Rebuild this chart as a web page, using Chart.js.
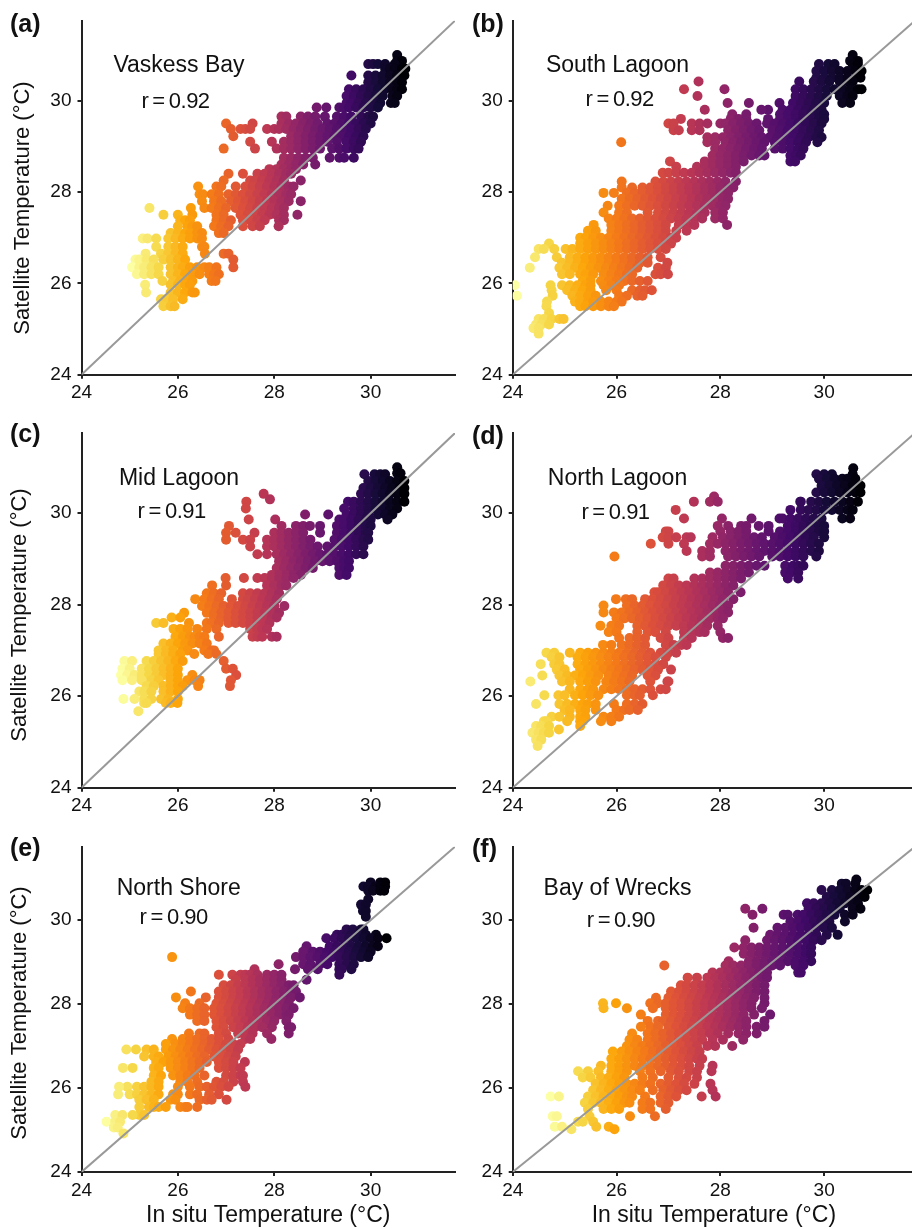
<!DOCTYPE html>
<html>
<head>
<meta charset="utf-8">
<title>In situ vs satellite temperature</title>
<script src="https://cdn.jsdelivr.net/npm/chart.js@4"></script>
<style>
html, body { margin: 0; padding: 0; width: 912px; height: 1229px; overflow: hidden; background: #fff; }
canvas { position: absolute; }
</style>
</head>
<body>
<canvas id="a" width="460" height="410" style="left:0;top:0"></canvas>
<canvas id="b" width="460" height="410" style="left:460px;top:0"></canvas>
<canvas id="c" width="460" height="410" style="left:0;top:410px"></canvas>
<canvas id="d" width="460" height="410" style="left:460px;top:410px"></canvas>
<canvas id="e" width="460" height="409" style="left:0;top:820px"></canvas>
<canvas id="f" width="460" height="409" style="left:460px;top:820px"></canvas>
<script>
const axisRange = [24, 31.75];
const tickValues = [24, 26, 28, 30];

// each row is: satellite temp, then the in situ temps read at that level
const vaskessBay = [
  [31.0,30.55],[30.87,30.55,30.65],[30.8,29.95,30.05,30.15,30.3,30.5],[30.7,30.3,30.4,30.5,30.65,30.72],
  [30.55,29.6,29.95,30.1,30.25,30.4,30.55,30.7],[30.4,29.95,30.1,30.25,30.4,30.55,30.65],
  [30.25,29.55,29.7,29.85,30,30.15,30.3,30.45,30.55,30.65],[30.1,29.5,29.65,29.8,29.95,30.1,30.25,30.45,30.55],
  [29.95,29.5,29.6,29.75,29.9,30.05,30.2,30.42,30.5],[29.85,28.88,29.08,29.35,29.45,29.55,29.7,29.85,30,30.15],
  [29.65,28.15,28.25,28.55,28.7,28.85,29.05,29.3,29.45,29.6,29.8,29.95,30.05],
  [29.5,27,27.55,28.15,28.3,28.45,28.6,28.75,28.9,29.1,29.25,29.4,29.55,29.7,29.85,30],
  [29.38,27.1,27.3,27.4,27.5,27.85,28,28.1,28.25,28.4,28.55,28.7,28.85,29,29.15,29.3,29.45,29.6,29.75,29.9],
  [29.22,27.15,28.35,28.5,28.65,28.8,28.95,29.1,29.25,29.4,29.55,29.7,29.85],
  [29.1,27.5,27.95,28.2,28.35,28.5,28.65,28.8,28.95,29.1,29.3,29.5,29.65,29.8],
  [28.95,26.95,27.6,28.05,28.2,28.35,28.5,28.65,28.8,28.95,29.2,29.35,29.5,29.65,29.75],
  [28.75,28.2,28.35,28.5,28.65,28.8,29.15,29.35,29.45,29.65],[28.6,28.15,28.3,28.45,28.6,28.85],
  [28.5,27.9,28.05,28.2,28.35,28.45],[28.4,27.05,27.35,27.65,27.8,27.95,28.1,28.25,28.35],
  [28.25,26.95,27.5,27.6,27.75,27.9,28.05,28.2,28.55],[28.12,26.42,26.8,26.9,27.2,27.4,27.55,27.7,27.85,28,28.15,28.3,28.4],
  [27.95,26.45,26.52,26.7,26.85,27.05,27.2,27.35,27.5,27.65,27.8,27.95,28.1,28.25,28.35],
  [27.8,26.5,26.75,26.9,27.1,27.25,27.4,27.55,27.7,27.85,28,28.15,28.3,28.55],
  [27.65,25.41,26.27,26.55,26.7,26.85,27,27.2,27.35,27.5,27.65,27.8,27.95,28.1,28.2],
  [27.5,25.7,26,26.3,26.8,26.95,27.3,27.45,27.6,27.75,27.9,28.05,28.2,28.48],
  [27.38,26.05,26.15,26.25,26.8,26.95,27.1,27.35,27.5,27.65,27.8,28.1,28.2],
  [27.25,26,26.2,26.3,26.4,26.75,26.9,27.05,27.35,27.55,27.7,28.09],[27.1,25.85,26,26.15,26.25,26.4,26.5,26.85,26.95],
  [26.98,25.27,25.37,25.55,25.8,25.95,26.1,26.25,26.4,26.5],[26.8,25.55,25.8,25.95,26.1,26.5,26.55],
  [26.65,25.33,25.65,25.8,25.95,26.1,26.56,26.95,27.05],[26.52,25.12,25.2,25.35,25.5,25.7,25.85,26,26.15,27.15],
  [26.35,25.05,25.2,25.3,25.45,25.6,25.85,26,26.1,26.25,26.4,26.55,26.65,26.8,27.15],
  [26.2,25.15,25.3,25.45,25.6,25.85,26,26.15,26.3,26.45,26.65,26.75,26.85],[26.05,25.68,25.9,26.05,26.2,26.3,26.7,26.78],
  [25.97,25.32,25.85,26,26.15,26.25],[25.8,25.34,25.85,26,26.15,26.3,26.35],[25.65,25.65,25.75,25.9,26.1],[25.5,25.7,25.85,25.93]
];

const southLagoon = [
  [31.0,30.55],[30.87,30.5,30.65],[30.8,29.9,30.08,30.2,30.55,30.65],[30.65,29.85,30,30.15,30.3,30.45,30.6,30.72],
  [30.5,29.85,30,30.15,30.3,30.45,30.6,30.7],[30.42,27.58,29.52,29.8,29.95,30.1,30.3,30.45,30.55],
  [30.25,27.3,28.08,29.45,29.6,29.75,29.9,30.05,30.2,30.35,30.5,30.65,30.72],[30.1,27.56,29.45,29.6,29.75,29.9,30.05,30.3,30.45,30.55],
  [29.95,28.14,28.55,29.14,29.4,29.55,29.7,29.85,30,30.35,30.5],[29.8,27.7,28.92,28.79,29.2,29.35,29.5,29.65,29.8,29.95],
  [29.7,28.23,28.5,29.15,29.3,29.45,29.6,29.75,29.9,30],[29.6,27.24,28.2,28.35,28.5,28.92,29.15,29.3,29.45,29.6,29.75,29.9,30],
  [29.5,27,27.1,27.45,27.6,27.75,28,28.1,28.25,28.4,28.55,28.7,28.9,29.05,29.2,29.35,29.5,29.65,29.8,29.95],
  [29.35,27.1,27.2,27.45,27.6,28.15,28.3,28.45,28.6,28.75,29,29.15,29.3,29.45,29.6,29.75,29.9],
  [29.2,27.75,27.9,28.05,28.2,28.35,28.5,28.65,28.8,28.95,29.1,29.25,29.4,29.55,29.7,29.85,29.95],
  [29.09,26.09,27.75,27.9,28.1,28.25,28.4,28.55,28.7,28.85,29.05,29.2,29.35,29.5,29.65,29.87],
  [28.95,27.9,28.05,28.2,28.35,28.5,28.65,28.8,29.05,29.2,29.35,29.5,29.6],[28.8,27.85,28,28.15,28.3,28.45,28.6,28.75,28.85,29.35,29.45,29.55],
  [28.67,27.03,27.7,27.85,28,28.15,28.3,28.45,29.35,29.44],[28.55,27.15,27.55,27.7,27.85,28,28.15,28.3],
  [28.42,26.89,27,27.15,27.3,27.45,27.6,27.75,27.9,28.05,28.2,28.3],
  [28.23,26.1,26.75,26.9,27.05,27.2,27.35,27.5,27.65,27.8,27.95,28.1,28.3],
  [28.1,26.1,26.3,26.5,26.65,26.8,26.95,27.1,27.25,27.4,27.55,27.7,27.85,28,28.15,28.25],
  [27.98,25.75,25.95,26.2,26.35,26.5,26.65,26.8,26.95,27.1,27.25,27.4,27.55,27.7,27.85,28,28.15],
  [27.85,26.1,26.25,26.4,26.55,26.7,26.85,27,27.15,27.3,27.45,27.6,27.75,27.9,28.05,28.15],
  [27.7,25.83,26.05,26.2,26.35,26.5,26.65,26.8,26.95,27.1,27.25,27.4,27.55,27.7,27.85,28,28.1],
  [27.55,25.75,26.05,26.2,26.6,26.8,26.95,27.1,27.25,27.4,27.55,27.7,27.9,28.05],
  [27.42,25.85,26,26.15,26.3,26.45,26.6,26.75,26.9,27.05,27.2,27.35,27.5,27.65,27.9,28.05],
  [27.28,25.56,25.9,26.05,26.2,26.35,26.5,26.65,26.8,26.95,27.2,27.35,27.5,28.13],
  [27.15,25.45,25.6,25.9,26.05,26.2,26.35,26.5,26.65,26.8,26.95,27.15,27.35],
  [27,25.3,25.4,25.55,25.7,25.85,26,26.15,26.3,26.45,26.6,26.75,26.9,27.05,27.15],
  [26.87,24.7,25.3,25.45,25.6,25.75,25.9,26.05,26.2,26.35,26.5,26.65,26.8,26.95,27.05],
  [26.75,24.5,24.6,24.8,25.02,25.15,25.3,25.45,25.6,25.75,25.9,26.05,26.2,26.35,26.5,26.65,26.8,26.95],
  [26.57,24.43,24.85,25.1,25.25,25.4,25.55,25.7,25.85,26,26.15,26.3,26.45,26.6,26.85],
  [26.45,24.95,25.1,25.25,25.4,25.55,25.7,25.85,26,26.15,26.3,26.45,26.6,26.98],
  [26.34,24.33,24.9,25.05,25.2,25.35,25.5,25.65,25.8,25.95,26.1,26.25,26.4,26.8,26.95],
  [26.2,24.95,25.1,25.3,25.4,25.55,25.75,25.9,26.05,26.2,26.3,26.75,26.85,26.99],
  [26.05,25.35,25.5,25.7,25.85,26,26.15,26.3,26.45,26.6],[25.96,24.04,24.73,24.95,25.1,25.25,25.4,25.5,25.75,25.9,26.05],
  [25.85,24.75,25.05,25.2,25.35,25.5,25.8,26,26.3,26.45,26.55,26.68],[25.73,24.08,24.77,25.15,25.3,25.45,25.6,26.05,26.2,26.4,26.5],
  [25.6,24.66,25.2,25.3,25.45,25.55,25.7,25.85,26,26.1],[25.5,24.65,25.3,25.4,25.55,25.7,25.85,25.95],[25.35,24.7],
  [25.22,24.5,24.6,24.75,24.9,24.98],[25.1,24.45,24.55,24.7],[25.02,24.4,24.5],[24.9,24.5]
];

const midLagoon = [
  [31.0,30.55],[30.87,30.55,30.62],[30.85,29.87,30.08,30.2,30.3],[30.7,29.95,30.1,30.25,30.4,30.55,30.7],
  [30.55,29.85,30,30.15,30.3,30.45,30.6,30.7],[30.42,27.78,29.8,29.95,30.1,30.25,30.4,30.55,30.7],[30.3,27.91],
  [30.25,27.42,29.53,29.65,29.8,29.95,30.1,30.25,30.4,30.55,30.7],[30.1,27.41,29.45,29.65,29.8,29.95,30.1,30.25,30.4,30.55],
  [29.97,29.12,28.64,29.5,29.65,29.8,29.95,30.15,30.3,30.45],[29.86,27.47,28.02,29.35,29.45,29.6,29.75,29.9,30,30.35],
  [29.72,27.06,28.15,28.45,28.6,28.74,28.95,29.3,29.45,29.6,29.75,29.9,30],
  [29.57,27,27.2,27.59,28,28.15,28.3,28.45,28.6,28.95,29.3,29.45,29.6,29.75,29.9,29.95],
  [29.42,27,27.35,27.5,27.85,28,28.15,28.3,28.45,28.6,28.75,29.25,29.4,29.55,29.7,29.85,29.95],
  [29.27,27.5,27.85,28,28.15,28.3,28.45,28.6,28.75,28.9,29.1,29.25,29.4,29.55,29.7,29.85],
  [29.1,27.65,27.85,28.05,28.2,28.35,28.5,28.65,28.8,28.95,29.1,29.25,29.4,29.55,29.7,29.85],
  [28.95,28.1,28.25,28.4,28.55,28.7,28.85,29,29.15,29.3,29.45,29.55],[28.8,28.05,28.2,28.35,28.5,28.65,28.8,29.35,29.45,29.55],
  [28.65,27.95,28.1,28.25,28.4,28.55,29.35,29.5],[28.58,26.99,27.37,27.65,27.8,27.95,28.1,28.25,28.4],
  [28.42,26.71,27,27.85,28,28.15,28.25],[28.25,26.6,26.75,26.9,27.35,27.5,27.65,27.8,27.95,28.1],
  [28.12,26.36,26.55,26.7,26.85,27.12,27.35,27.45,27.6,27.75,27.9,28.05],
  [27.97,26.5,26.65,26.8,26.95,27.1,27.25,27.4,27.55,27.7,27.85,28,28.21],
  [27.82,26.13,26.6,26.75,26.9,27.05,27.2,27.35,27.5,27.65,27.8,27.95,28.1],
  [27.72,25.87,26.05,26.75,26.9,27.05,27.2,27.35,27.5,27.65,27.8,27.95,28.05],
  [27.6,25.55,25.7,26.23,26.6,26.7,26.85,27.05,27.2,27.35,27.5,27.65,27.75,27.9],
  [27.47,25.91,26.05,26.2,26.4,26.6,26.8,27.5,27.65,27.75,27.85],
  [27.3,25.95,26.1,26.25,26.35,26.45,26.55,26.85,27.55,27.65,27.75,27.95,28.05],
  [27.15,25.7,25.85,26,26.15,26.3,26.45,26.6],[27,25.6,25.75,25.9,26.1,26.2,26.55,26.7,26.75],
  [26.92,25.6,25.75,25.9,26.05,26.34,26.63,26.8],[26.77,24.89,25.05,25.35,25.5,25.65,25.8,25.95,26.1,26.95],
  [26.6,24.85,25,25.25,25.4,25.55,25.7,25.85,26,27,27.14],
  [26.46,24.82,24.95,25.1,25.25,25.4,25.55,25.7,25.85,26,26.3,27.21],
  [26.35,24.85,25.05,25.25,25.45,25.6,25.85,26,26.2,26.35,26.45,27.1],
  [26.22,25.35,25.5,25.7,25.85,26,26.1,26.42,27.08],[26.1,25.2,25.3,25.45,25.7,25.85,26],
  [25.94,24.87,25.1,25.3,25.45,25.65,25.8,26],[25.85,25.3,25.35,25.75,25.85,25.99],[25.67,25.18]
];

const northLagoon = [
  [30.98,30.56],[30.85,29.85,30,30.15,30.55],[30.75,29.9,30.05,30.2,30.35,30.45,30.6],[30.6,29.95,30.1,30.25,30.4,30.55,30.7],
  [30.45,29.85,30,30.15,30.3,30.45,30.6,30.7],[30.36,27.88],[30.25,27.49,27.8,27.95,29.54,29.55,29.75,29.9,30.05,30.2,30.35,30.5,30.65],
  [30.07,27.14,29.35,29.55,29.7,29.85,30,30.15,30.3,30.45,30.55],
  [29.88,27.3,28.03,28.6,29.14,29.2,29.35,29.5,29.65,29.8,29.95,30.35,30.5],
  [29.72,27.95,28.15,28.4,28.5,28.74,28.93,29.3,29.45,29.6,29.75,29.9,30],
  [29.6,26.95,27,28,28.2,28.35,28.5,28.93,29.15,29.3,29.45,29.6,29.75,29.9,30],
  [29.47,26.89,27,27.15,27.35,27.43,27.85,28.05,28.2,28.35,28.5,28.65,28.8,29.05,29.2,29.35,29.5,29.65,29.8,30],
  [29.33,26.66,27,27.3,27.8,27.95,28.1,28.25,28.4,28.55,28.7,28.85,29,29.15,29.3,29.45,29.6,29.75,29.9],
  [29.17,27.35,27.65,27.8,28.1,28.25,28.4,28.55,28.7,28.85,29,29.15,29.3,29.45,29.6,29.75,29.9],
  [29.05,25.96,27.65,27.8,28.15,28.3,28.45,28.6,28.75,29,29.15,29.3,29.45,29.6,29.85],
  [28.85,28.1,28.25,28.4,28.55,28.7,28.85,29.25,29.4,29.5,29.6],[28.7,27.8,27.95,28.1,28.25,28.4,28.55,29.25,29.35,29.5],
  [28.57,27,27.1,27.5,27.65,27.8,27.95,28.1,28.25,28.4,29.3,29.5],[28.42,26.9,27.05,27.2,27.35,27.5,27.65,27.8,27.95,28.1,28.25],
  [28.27,26.73,26.8,26.95,27.1,27.25,27.4,27.55,27.7,27.85,28,28.15,28.39],
  [28.12,25.99,26.18,26.3,26.55,26.7,26.85,27,27.15,27.3,27.45,27.6,27.75,27.9,28.05,28.25],
  [27.98,25.75,26.2,26.35,26.5,26.65,26.8,26.95,27.1,27.25,27.4,27.55,27.7,27.85,28,28.15],
  [27.83,25.75,25.95,26.1,26.25,26.4,26.55,26.7,26.85,27,27.15,27.3,27.45,27.6,27.75,27.9,28.05,28.15],
  [27.7,26,26.15,26.3,26.45,26.6,26.75,26.9,27.05,27.2,27.35,27.5,27.65,27.8,27.95,28.05],
  [27.54,25.69,25.9,26.05,26.4,26.55,26.7,26.85,27,27.15,27.3,27.45,27.6,27.75,27.95],
  [27.4,25.85,26,26.4,26.6,26.75,26.95,27.3,27.45,27.6,27.7,28],
  [27.27,26.05,26.25,26.4,26.55,26.85,27,27.3,27.45,28.05,28.15],[27.12,25.74,25.9,26.1,26.25,26.4,26.55,26.95,27.1,27.25,27.35],
  [26.95,24.65,24.8,25.1,25.3,25.45,25.6,25.75,25.9,26.05,26.2,26.35,26.5,26.65,26.85,27,27.15],
  [26.85,24.75,24.9,25.25,25.4,25.55,25.7,25.85,26,26.15,26.3,26.45,26.6,26.75,26.95],
  [26.7,24.54,24.8,24.9,25.25,25.4,25.55,25.7,25.85,26,26.15,26.3,26.45,26.6,26.75,26.9],
  [26.58,24.85,25,25.3,25.45,25.6,25.75,25.9,26.05,26.2,26.35,26.5,26.65,26.8,27.05],
  [26.45,24.57,24.9,25.05,25.2,25.35,25.5,25.65,25.85,26,26.15,26.3,26.6,26.75],
  [26.32,24.34,24.95,25.1,25.3,25.45,25.6,25.8,25.95,26.1,26.25,26.65,26.98,27],
  [26.15,25.1,25.3,25.45,25.55,25.75,25.9,26.05,26.2,26.35,26.5,26.65,26.85,26.95],
  [26.02,24.61,24.88,25,25.2,25.35,25.5,25.65,26.2,26.35,26.45,26.7],[25.83,24.45,24.9,25.05,25.2,25.35,25.45,25.6,25.95,26.2,26.35,26.5],
  [25.7,25,25.1,25.3,25.4,25.6,26,26.15,26.25,26.41],[25.55,24.75,24.9,25.1,25.3,25.4,25.75,25.9,26.05],
  [25.45,24.6,24.65,25.05,25.3,25.35,25.7,25.9],[25.35,24.45,24.55,24.7,25.3],[25.27,24.89],
  [25.2,24.38,24.5,24.6,24.7],[25.05,24.45,24.55],[24.91,24.48]
];

const northShore = [
  [30.9,30,30.2,30.3],[30.8,29.85,29.95,30.1,30.2,30.3],[30.7,29.95,30.05,30.2,30.28],[30.5,29.95],[30.37,29.8,29.9],[30.22,29.84,29.9],[30.08,29.9],
  [29.78,29.5,29.63,29.8,29.85],[29.65,29.3,29.4,29.5,29.6,29.75,29.9,30.11],[29.57,29.08,29.25,29.4,29.55,29.7,29.85,30,30.15,30.33],
  [29.38,28.67,29.15,29.3,29.45,29.6,29.75,29.9,30.05,30.15],[29.25,28.6,28.8,28.95,29.1,29.25,29.4,29.55,29.7,29.85,30],
  [29.12,25.88,28.45,28.6,28.75,28.9,29.05,29.2,29.35,29.5,29.65,29.8,29.95],[28.95,28.09,28.6,28.75,28.95,29.1,29.35,29.5,29.65],
  [28.83,27.59,28.43,28.7,28.9,29.35,29.4,29.6],[28.7,26.85,27.13,27.3,27.4,27.5,27.65,27.85,28,28.15,29.35],
  [28.58,27.2,27.4,27.55,27.7,27.85,28,28.15,28.67],[28.45,26.95,27.1,27.25,27.4,27.55,27.7,27.85,28,28.15,28.3,28.4],
  [28.3,26.27,26.85,27,27.15,27.3,27.45,27.6,27.75,27.9,28.05,28.2,28.35,28.45],
  [28.16,25.96,26.58,26.85,27,27.15,27.3,27.45,27.6,27.75,27.9,28.05,28.2,28.35,28.53],
  [28.02,26.15,26.45,26.8,26.95,27.1,27.25,27.4,27.55,27.7,27.85,28,28.15,28.3],
  [27.9,26.1,26.25,26.4,26.55,26.75,26.9,27.05,27.2,27.35,27.5,27.65,27.8,27.95,28.1,28.25,28.4],
  [27.75,26.25,26.4,26.55,26.75,26.9,27.05,27.2,27.35,27.5,27.65,27.8,27.95,28.1,28.25,28.3],
  [27.6,26.4,26.55,26.8,26.95,27.1,27.25,27.4,27.55,27.7,27.85,28,28.25],[27.45,26.8,26.95,27.15,27.3,27.45,27.6,27.75,27.95,28.3,28.35],
  [27.3,26.23,26.45,26.55,26.85,27,27.25,27.4,27.55,27.85,28.3],[27.17,25.88,26.1,26.25,26.4,26.55,26.7,26.85,27.05,27.4,27.5,27.94],
  [27.05,25.75,25.95,26.1,26.25,26.4,26.55,26.7,26.85,27,27.15,27.3],
  [26.92,25.13,24.93,25.35,25.5,25.75,25.9,26.05,26.2,26.35,26.5,26.65,26.8,26.95,27.1,27.25],
  [26.75,25.3,25.5,25.6,25.8,25.95,26.1,26.25,26.4,26.55,26.75,26.9,27.05,27.2],
  [26.62,25.55,25.7,25.85,26,26.15,26.3,26.45,26.6,26.85,27,27.15,27.39],
  [26.48,24.86,25.06,25.5,25.6,25.85,26,26.15,26.3,26.45,26.85,27,27.15,27.3],
  [26.3,25.5,25.65,25.9,26.05,26.2,26.35,26.55,27,27.15,27.3,27.35],[26.15,25.45,25.6,26.05,26.2,26.4,26.8,26.95,27.15,27.35],
  [26.03,24.95,24.78,25.15,25.3,25.45,25.6,26,26.25,26.45,26.6,26.75,26.9,27.05,27.4],
  [25.85,24.76,25,25.15,25.3,25.45,25.6,25.9,26,26.25,26.4,26.65,26.85],[25.72,25.2,25.35,25.5,25.85,25.95,26.45,26.6,26.7,27.01],
  [25.55,25.2,25.4,25.5,25.6,25.75,26.05,26.15,26.2,26.4],[25.36,24.7,24.85,25.2,25.3,25.06],[25.2,24.52,24.7,24.8],[25.06,24.67,24.75],[24.92,24.87]
];

const bayOfWrecks = [
  [30.97,30.62],[30.87,30.34,30.42,30.6],[30.72,29.95,30.15,30.3,30.45,30.6,30.72,30.83],[30.55,30.05,30.2,30.35,30.5,30.65,30.78],
  [30.4,29.67,29.8,29.95,30.1,30.25,30.4,30.55,30.65],[30.27,28.48,28.81,29.7,29.85,30,30.15,30.3,30.55,30.7],
  [30.13,28.62,29.22,29.3,29.49,29.6,29.75,29.9,30.05,30.2,30.4,30.55],[29.97,29.35,29.5,29.65,29.8,29.95,30.1,30.4],
  [29.82,28.64,29.1,29.25,29.4,29.55,29.7,29.85,30,30.15],[29.65,28.96,29.1,29.25,29.4,29.55,29.7,29.85,30.05,30.26],
  [29.52,28.48,28.9,29.05,29.2,29.35,29.5,29.65,29.8,29.95],[29.35,28.27,28.45,28.6,28.75,28.9,29.05,29.2,29.35,29.5,29.65,29.75],
  [29.2,28.45,28.6,28.75,28.9,29.05,29.2,29.35,29.5,29.65,29.75],[29.02,28.16,28.55,28.7,28.85,29,29.15,29.3,29.45,29.6,29.75],
  [28.92,26.92,28.1,28.25,28.4,28.55,28.7,28.85,29,29.15,29.45,29.6],[28.75,27.85,28,28.15,28.3,28.45,28.6,28.75,28.9,29.5,29.55],
  [28.63,27.37,27.55,27.75,27.9,28.05,28.2,28.35,28.5,28.65,28.8,28.9],[28.45,27.24,27.35,27.5,27.65,27.8,27.95,28.1,28.25,28.4,28.55,28.7,28.85],
  [28.3,27.05,27.2,27.35,27.5,27.65,27.8,27.95,28.1,28.25,28.4,28.55,28.7,28.85],
  [28.15,26.76,27,27.15,27.3,27.45,27.6,27.75,27.9,28.05,28.2,28.35,28.5,28.65,28.85],
  [28.02,25.74,25.99,26.65,26.8,26.95,27.1,27.25,27.4,27.55,27.7,27.85,28,28.15,28.3,28.45,28.6,28.85],
  [27.9,25.75,26.2,26.7,26.95,27.1,27.25,27.4,27.55,27.7,27.85,28,28.15,28.3,28.45,28.6,28.8],
  [27.75,26.47,26.95,27.1,27.25,27.4,27.55,27.7,27.85,28,28.15,28.3,28.45,28.65,28.96],
  [27.6,26.6,26.8,26.9,27.05,27.2,27.35,27.5,27.65,27.8,27.95,28.1,28.25,28.4,28.5,28.85],
  [27.46,26.47,26.65,26.8,27,27.15,27.3,27.45,27.6,27.75,27.9,28.05,28.2,28.35,28.5,28.7,28.85],
  [27.3,26.3,26.6,26.75,26.9,27.05,27.2,27.35,27.5,27.65,27.8,27.95,28.15,28.35,28.5,28.7],
  [27.15,26.25,26.4,26.6,26.75,26.9,27.05,27.2,27.35,27.5,27.65,27.85,28.05,28.44],
  [27,26.2,26.35,26.5,26.65,26.8,26.95,27.1,27.25,27.4,27.55,27.75,27.9,28.23],
  [26.87,25.93,26.1,26.25,26.4,26.55,26.7,26.85,27,27.15,27.3,27.45,27.6],
  [26.7,25.9,26.05,26.2,26.35,26.5,26.65,26.8,26.95,27.1,27.25,27.4,27.55,27.65],
  [26.53,25.7,25.9,26.05,26.2,26.35,26.5,26.65,26.8,26.95,27.1,27.25,27.4,27.6,27.85],
  [26.4,25.26,25.45,25.65,25.9,26.05,26.2,26.45,26.65,26.85,27.05,27.2,27.4,27.55,27.83],
  [26.25,25.35,25.5,25.7,25.85,26,26.15,26.5,26.7,27,27.2,27.35,27.55],
  [26.1,25.6,25.75,25.9,26.05,26.2,26.35,26.5,26.65,26.85,27,27.15,27.3,27.5,27.81],
  [25.95,25.55,25.7,25.85,26,26.15,26.3,26.45,26.7,26.9,27.05,27.2,27.35,27.85],
  [25.8,24.73,24.89,25.45,25.6,25.75,25.9,26.05,26.2,26.3,26.55,26.85,27,27.15,27.64,27.91],
  [25.65,25.39,25.55,25.7,25.85,26,26.15,26.25,26.5,26.65,26.85,27],[25.5,25.45,25.75,25.9,26.05,26.5,26.65,26.95],
  [25.33,24.77,24.85,25.48,26.26,26.74],[25.2,25.26,25.35,25.55],[25.08,24.81,24.95,25.61,25.85],[25.02,25.13,25.96]
];

// inferno colour stops, pale end first
const inferno = ['#fcffa4', '#f6d746', '#fca50a', '#f37819', '#dd513a', '#bc3754', '#932667', '#6a176e', '#420a68', '#160b39', '#000004'];

const panels = [
  { id: 'a', rows: vaskessBay, letter: '(a)', site: 'Vaskess Bay', r: 'r = 0.92', colorMin: 25.05, colorMax: 30.7,
    top: 20.7, bottom: 35.3, left: 81.5, letterPos: [10, 25], sitePos: [179, 66], rPos: [175.5, 102], yTitle: [23, 208] },
  { id: 'b', rows: southLagoon, letter: '(b)', site: 'South Lagoon', r: 'r = 0.92', colorMin: 24.04, colorMax: 30.72,
    top: 20.7, bottom: 35.3, left: 52.7, letterPos: [12, 25], sitePos: [157.5, 66], rPos: [159.7, 100] },
  { id: 'c', rows: midLagoon, letter: '(c)', site: 'Mid Lagoon', r: 'r = 0.91', colorMin: 24.82, colorMax: 30.7,
    top: 23, bottom: 32.3, left: 81.5, letterPos: [10, 25], sitePos: [179, 69], rPos: [171.7, 102], yTitle: [20, 205] },
  { id: 'd', rows: northLagoon, letter: '(d)', site: 'North Lagoon', r: 'r = 0.91', colorMin: 24, colorMax: 30.7,
    top: 23, bottom: 32.3, left: 52.7, letterPos: [12, 27], sitePos: [157.5, 69], rPos: [155.5, 103] },
  { id: 'e', rows: northShore, letter: '(e)', site: 'North Shore', r: 'r = 0.90', colorMin: 24.5, colorMax: 30.33,
    top: 26.7, bottom: 57, left: 81.5, letterPos: [10, 29], sitePos: [178.7, 68.3], rPos: [173.7, 98.3], yTitle: [20, 193], xTitle: true },
  { id: 'f', rows: bayOfWrecks, letter: '(f)', site: 'Bay of Wrecks', r: 'r = 0.90', colorMin: 24.73, colorMax: 30.83,
    top: 26.7, bottom: 57, left: 52.7, letterPos: [12, 30], sitePos: [157.5, 68.3], rPos: [160.8, 101], xTitle: true }
];

const yLabel = 'Satellite Temperature (°C)';
const xLabel = 'In situ Temperature (°C)';
const axisColor = '#222';

function mixHex(a, b, f) {
  const parse = h => [1, 3, 5].map(i => parseInt(h.slice(i, i + 2), 16));
  const ca = parse(a), cb = parse(b);
  return 'rgb(' + ca.map((v, i) => Math.round(v + (cb[i] - v) * f)).join(',') + ')';
}

function colorFor(x, panel) {
  const t = Math.min(1, Math.max(0, (x - panel.colorMin) / (panel.colorMax - panel.colorMin))) * 10;
  const i = Math.min(9, Math.floor(t));
  return mixHex(inferno[i], inferno[i + 1], t - i);
}

function rowsToPoints(rows) {
  const pts = [];
  rows.forEach(row => row.slice(1).forEach(x => pts.push({ x: x, y: row[0] })));
  return pts;
}

const panelText = {
  id: 'panelText',
  afterDraw(chart, args, opts) {
    const p = opts.panel, c = chart.ctx;
    c.save();
    c.fillStyle = '#111';
    c.textBaseline = 'middle';
    c.textAlign = 'left';
    c.font = 'bold 25px "Liberation Sans"';
    c.fillText(p.letter, p.letterPos[0], p.letterPos[1]);
    c.textAlign = 'center';
    c.font = '23px "Liberation Sans"';
    c.fillText(p.site, p.sitePos[0], p.sitePos[1]);
    c.font = '22px "Liberation Sans"';
    c.wordSpacing = '-1.5px';
    c.letterSpacing = '-0.5px';
    c.fillText(p.r, p.rPos[0], p.rPos[1]);
    c.wordSpacing = '0px';
    c.letterSpacing = '0px';
    if (p.yTitle) {
      c.translate(p.yTitle[0], p.yTitle[1]);
      c.rotate(-Math.PI / 2);
      c.fillText(yLabel, 0, 0);
    }
    c.restore();
  }
};

function axis(fixSize, extra) {
  return Object.assign({
    type: 'linear',
    min: axisRange[0],
    max: axisRange[1],
    afterBuildTicks: s => { s.ticks = tickValues.map(v => ({ value: v })); },
    afterFit: fixSize,
    border: { color: axisColor, width: 2 },
    grid: { drawOnChartArea: false, drawTicks: true, tickLength: 4, color: axisColor, lineWidth: 2 }
  }, extra);
}

panels.forEach(p => {
  const points = rowsToPoints(p.rows);
  new Chart(document.getElementById(p.id), {
    type: 'scatter',
    data: {
      datasets: [
        {
          type: 'line',
          data: axisRange.map(v => ({ x: v, y: v })),
          borderColor: '#999',
          borderWidth: 2,
          pointRadius: 0,
          order: 0
        },
        {
          data: points,
          pointRadius: 5,
          pointBorderWidth: 0,
          pointBackgroundColor: points.map(pt => colorFor(pt.x, p)),
          order: 1
        }
      ]
    },
    options: {
      responsive: false,
      animation: false,
      layout: { padding: { top: p.top, right: 2, left: 0, bottom: 0 } },
      plugins: { legend: { display: false }, tooltip: { enabled: false }, panelText: { panel: p } },
      scales: {
        x: axis(s => { s.height = p.bottom; }, {
          ticks: { color: '#111', font: { family: 'Liberation Sans', size: 19 }, maxRotation: 0, padding: 3 },
          title: { display: !!p.xTitle, text: xLabel, color: '#111', font: { family: 'Liberation Sans', size: 23 }, padding: { top: 0, bottom: 0 } }
        }),
        y: axis(s => { s.width = p.left; }, {
          ticks: { color: '#111', font: { family: 'Liberation Sans', size: 19 }, padding: 6 }
        })
      }
    },
    plugins: [panelText]
  });
});
</script>
</body>
</html>
